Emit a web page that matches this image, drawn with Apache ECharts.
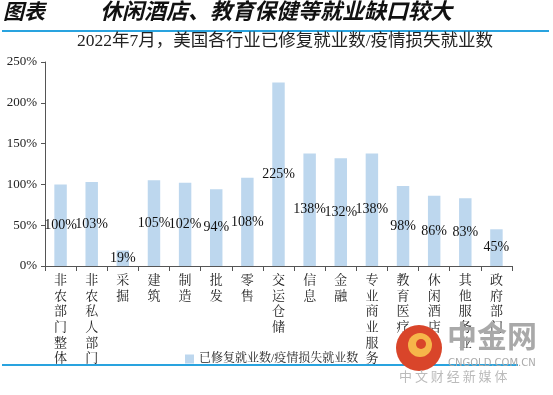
<!DOCTYPE html>
<html><head><meta charset="utf-8">
<script src="https://cdn.jsdelivr.net/npm/echarts@6/dist/echarts.min.js"></script>
<style>html,body{margin:0;padding:0;background:#fff}#c{width:553px;height:395px}</style>
</head><body><div id="c"></div>
<script>
const categories = ['非农部门整体','非农私人部门','采掘','建筑','制造','批发','零售','交运仓储','信息','金融','专业商业服务','教育医疗','休闲酒店','其他服务业','政府部门'];
const values = [100,103,19,105,102,94,108,225,138,132,138,98,86,83,45];
const seriesName = '已修复就业数/疫情损失就业数';
const yTicks = [0,50,100,150,200,250];

const serif = '"Liberation Serif","Noto Serif CJK SC","Noto Sans CJK SC",serif';
const chart = echarts.init(document.getElementById('c'), null, {renderer:'canvas'});
chart.setOption({
  animation:false,
  backgroundColor:'#fff',
  grid:{left:45,right:41,top:62,bottom:129,containLabel:false},
  legend:{show:true,left:180,top:348,itemWidth:9,itemHeight:9,itemGap:4,
    icon:'rect',textStyle:{fontSize:12,color:'#222',fontFamily:serif},data:[seriesName]},
  xAxis:{type:'category',data:categories,
    axisLine:{lineStyle:{color:'#555',width:1}},
    axisTick:{show:true,alignWithLabel:false,length:5,lineStyle:{color:'#555'}},
    axisLabel:{interval:0,margin:7,fontSize:13,lineHeight:15.6,color:'#222',fontFamily:serif,
      formatter:v=>v.split('').join('\n'),verticalAlign:'top'}},
  yAxis:{type:'value',min:yTicks[0],max:yTicks[yTicks.length-1],interval:50,
    splitLine:{show:false},
    axisLine:{show:true,lineStyle:{color:'#555',width:1}},
    axisTick:{show:true,length:4,lineStyle:{color:'#555'}},
    axisLabel:{formatter:'{value}%',fontSize:13,color:'#222',fontFamily:serif,margin:8}},
  series:[{name:seriesName,type:'bar',data:values,barWidth:'40%',
    itemStyle:{color:'#bdd7ee'},
    label:{show:true,position:'inside',formatter:'{c}%',color:'#111',fontSize:14,fontFamily:serif}}],
  graphic:[
    {type:'text',left:3,top:1,style:{text:'图表',font:'italic bold 21px "Noto Sans CJK SC"',fill:'#111'}},
    {type:'text',left:100,top:0,style:{text:'休闲酒店、教育保健等就业缺口较大',font:'italic bold 22px "Noto Sans CJK SC"',fill:'#111'}},
    {type:'rect',shape:{x:2,y:30,width:547,height:2},style:{fill:'#29a3df'}},
    {type:'text',left:77,top:33,style:{text:'2022年7月，美国各行业已修复就业数/疫情损失就业数',font:'17.5px "Liberation Serif","Noto Sans CJK SC"',fill:'#222'}},
    {type:'rect',shape:{x:2,y:364,width:516,height:2},style:{fill:'#29a3df'}},
    {type:'circle',shape:{cx:419,cy:348,r:23},style:{fill:'#d9452a'},z:10},
    {type:'circle',shape:{cx:420,cy:345,r:12},style:{fill:'#f6b64a'},z:11},
    {type:'circle',shape:{cx:421,cy:344,r:5},style:{fill:'#d9452a'},z:12},
    {type:'text',left:447,top:321,z:10,style:{text:'中金网',font:'bold 30px "Noto Sans CJK SC"',fill:'#a9a9a9'}},
    {type:'text',left:448,top:358,z:10,style:{text:'CNGOLD.COM.CN',font:'10px "DejaVu Sans"',fill:'#aaa'}},
    {type:'text',left:399,top:370,z:10,style:{text:'中 文 财 经 新 媒 体',font:'13px "Noto Sans CJK SC"',fill:'#bbb'}}
  ]
});
</script></body></html>
